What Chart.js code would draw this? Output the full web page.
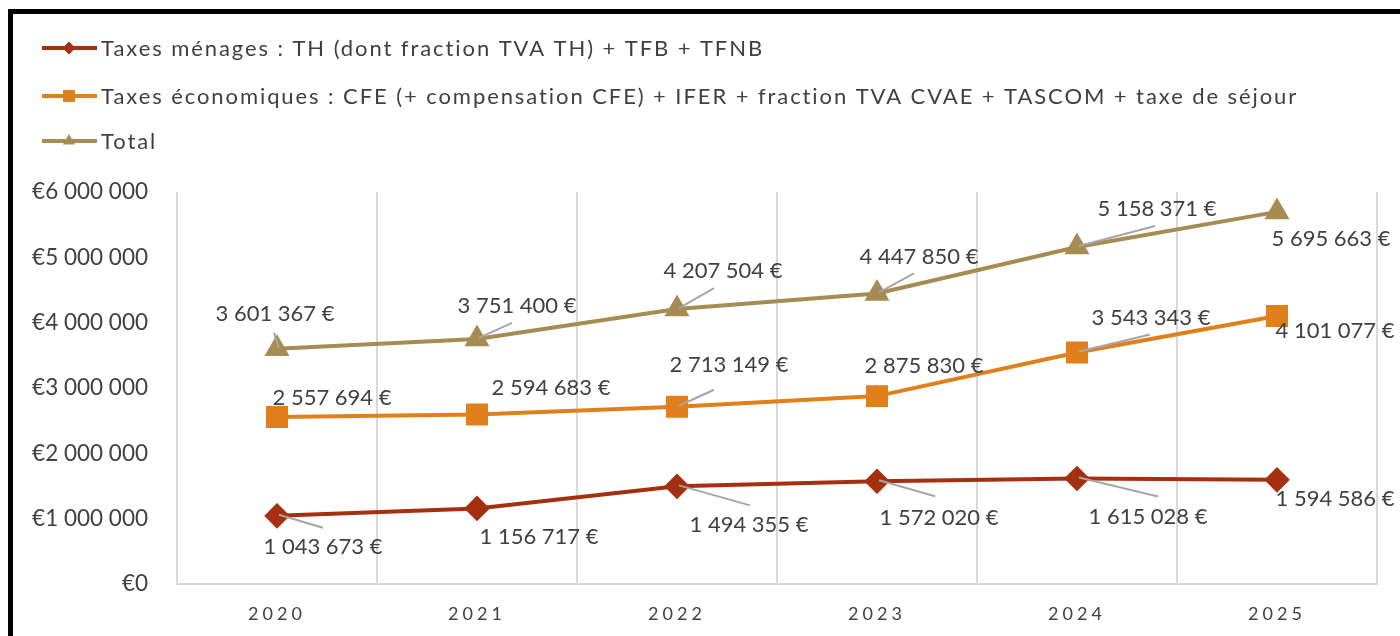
<!DOCTYPE html>
<html lang="fr">
<head>
  <meta charset="UTF-8" />
  <title>Fiscalité 2020-2025</title>
  <script src="https://cdn.jsdelivr.net/npm/chart.js"></script>
  <style>
    html, body { margin: 0; padding: 0; background: #fff; }
    #wrap { position: relative; width: 1400px; height: 636px; }
  </style>
</head>
<body>
  <div id="wrap"><canvas id="chart" width="1400" height="636"></canvas></div>

  <script>
    // --- data ---
    const years = ['2020', '2021', '2022', '2023', '2024', '2025'];
    const menages = [1043673, 1156717, 1494355, 1572020, 1615028, 1594586];
    const economiques = [2557694, 2594683, 2713149, 2875830, 3543343, 4101077];
    const total = [3601367, 3751400, 4207504, 4447850, 5158371, 5695663];
    const seriesNames = [
      'Taxes ménages : TH (dont fraction TVA TH) + TFB + TFNB',
      'Taxes économiques : CFE (+ compensation CFE) + IFER + fraction TVA CVAE + TASCOM + taxe de séjour',
      'Total'
    ];
    const yTicks = [0, 1000000, 2000000, 3000000, 4000000, 5000000, 6000000];

    // label placement (pixels from point): [dx, dy, leaderDx, leaderDy] (leader optional)
    const labelPos = [
      [[46, 31, 46, 12], [62, 28], [72, 39, 73, 19], [62, 37, 58, 15], [71, 38, 81, 18], [58, 19]],
      [[55, -19], [74, -27], [52, -42, 37, -17], [47, -30], [74, -35, 73, -18], [58, 15]],
      [[-2, -35, -3, -16], [40, -33, 35, -16], [46, -38, 37, -21], [42, -37, 37, -20], [80, -38, 78, -21], [54, 27]]
    ];

    const FONT = 'Lato, "DejaVu Sans", sans-serif';
    const TEXT = '#404040';

    const fmt = n => n.toString().replace(/\B(?=(\d{3})+(?!\d))/g, ' ');

    // black frame around the chart
    const framePlugin = {
      id: 'frame',
      beforeDraw(chart) {
        const ctx = chart.ctx;
        ctx.save();
        ctx.fillStyle = '#fff';
        ctx.fillRect(0, 0, chart.width, chart.height);
        ctx.fillStyle = '#000';
        ctx.fillRect(8, 9, chart.width, 5);
        ctx.fillRect(8, 9, 5, chart.height);
        ctx.restore();
      }
    };

    // spaced x labels
    const spacedLabels = {
      id: 'spacedLabels',
      afterLayout(chart) {
        const s = chart.scales.x;
        if (!s || s._spaced) return;
        const orig = s.drawLabels.bind(s);
        s.drawLabels = function (area) {
          chart.ctx.save();
          chart.ctx.letterSpacing = '4px';
          orig(area);
          chart.ctx.restore();
        };
        s._spaced = true;
      }
    };

    // legend drawn as line + marker like the original
    const lineLegend = {
      id: 'lineLegend',
      afterDraw(chart) {
        const ctx = chart.ctx;
        const rows = [48, 96, 141];
        const sizes = [6.5, 8.5, 7];
        ctx.save();
        ctx.font = '22px ' + FONT;
        // spread the text so the longest entry spans like the original
        const longest = seriesNames[1];
        const w = ctx.measureText(longest).width;
        const spacing = (1198 - w) / longest.length;
        chart.data.datasets.forEach((ds, i) => {
          const y = rows[i];
          ctx.strokeStyle = ds.borderColor;
          ctx.lineWidth = 4;
          ctx.beginPath();
          ctx.moveTo(42, y);
          ctx.lineTo(97, y);
          ctx.stroke();
          ctx.fillStyle = ds.backgroundColor;
          Chart.helpers.drawPoint(ctx, { pointStyle: ds.pointStyle, radius: sizes[i], rotation: 0, borderWidth: 0 }, 69, y);
          ctx.fillStyle = TEXT;
          ctx.letterSpacing = spacing.toFixed(2) + 'px';
          ctx.textBaseline = 'middle';
          ctx.textAlign = 'left';
          ctx.fillText(ds.label, 101, y + 1);
          ctx.letterSpacing = '0px';
        });
        ctx.restore();
      }
    };

    // value labels with grey leader lines
    const valueLabels = {
      id: 'valueLabels',
      afterDatasetsDraw(chart) {
        const ctx = chart.ctx;
        ctx.save();
        ctx.font = '22px ' + FONT;
        ctx.fillStyle = TEXT;
        ctx.textAlign = 'center';
        ctx.textBaseline = 'middle';
        chart.data.datasets.forEach((ds, i) => {
          const meta = chart.getDatasetMeta(i);
          meta.data.forEach((pt, j) => {
            const p = labelPos[i][j];
            if (p.length > 2) {
              ctx.strokeStyle = '#a6a6a6';
              ctx.lineWidth = 2;
              ctx.beginPath();
              ctx.moveTo(pt.x + 2, pt.y - 1);
              ctx.lineTo(pt.x + p[2], pt.y + p[3]);
              ctx.stroke();
            }
            ctx.fillText(fmt(ds.data[j]) + ' €', pt.x + p[0], pt.y + p[1]);
          });
        });
        ctx.restore();
      }
    };

    new Chart(document.getElementById('chart'), {
      type: 'line',
      data: {
        labels: years,
        datasets: [
          {
            label: seriesNames[0], data: menages,
            borderColor: '#A5300F', backgroundColor: '#A5300F',
            pointStyle: 'rectRot', pointRadius: 10, borderWidth: 4
          },
          {
            label: seriesNames[1], data: economiques,
            borderColor: '#E07F1B', backgroundColor: '#E07F1B',
            pointStyle: 'rect', pointRadius: 12.7, borderWidth: 4
          },
          {
            label: seriesNames[2], data: total,
            borderColor: '#A68B52', backgroundColor: '#A68B52',
            pointStyle: 'triangle', pointRadius: 10.5, borderWidth: 4
          }
        ]
      },
      options: {
        responsive: false,
        animation: false,
        events: [],
        elements: { point: { borderWidth: 0 }, line: { tension: 0 } },
        layout: { padding: { top: 192, right: 23, left: 0, bottom: 0 } },
        plugins: {
          legend: { display: false },
          tooltip: { enabled: false }
        },
        scales: {
          x: {
            offset: true,
            grid: { offset: true, color: '#d9d9d9', lineWidth: 2, drawTicks: false },
            border: { color: '#d9d9d9', width: 2 },
            ticks: { color: TEXT, font: { family: FONT, size: 18 }, padding: 19 },
            afterFit(s) { s.height = 52; }
          },
          y: {
            min: 0, max: 6000000,
            afterBuildTicks(s) { s.ticks = yTicks.map(v => ({ value: v })); },
            grid: { display: false, drawTicks: false },
            border: { display: false },
            ticks: {
              color: TEXT, font: { family: FONT, size: 22.5 }, padding: 29,
              callback: v => '€' + fmt(v)
            },
            afterFit(s) { s.width = 177; }
          }
        }
      },
      plugins: [framePlugin, spacedLabels, valueLabels, lineLegend]
    });
  </script>
</body>
</html>
